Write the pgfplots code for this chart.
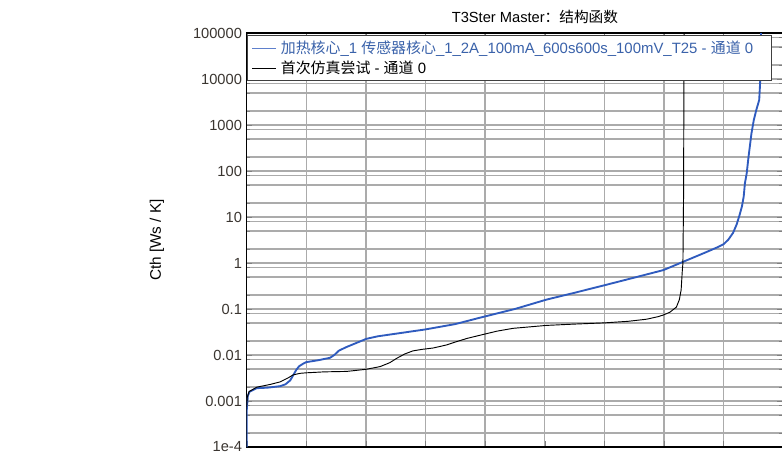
\documentclass[border=0pt]{standalone}
\usepackage{fontspec}
\setmainfont{Liberation Sans}
\newfontfamily\cjk{Noto Sans CJK SC}
\usepackage{pgfplots}
\pgfplotsset{compat=1.18}
\definecolor{cblue}{HTML}{2F5BBE}
\definecolor{ltblue}{HTML}{3A62AA}
\definecolor{legblue}{HTML}{5F80CC}
\definecolor{gridc}{HTML}{ABABAB}
\definecolor{tickc}{HTML}{3A3530}

\begin{document}
\begin{tikzpicture}
\useasboundingbox (-185pt,-7.5pt) rectangle (401.5pt,335.25pt);
\begin{axis}[
  at={(0,0)}, anchor=south west, scale only axis,
  width=402.3pt, height=310.5pt,
  xmin=0, xmax=9, ymode=log, ymin=1e-4, ymax=1e5,
  xtick={0,1,2,3,4,5,6,7,8,9}, xticklabels={},
  ytick={1e-4,1e-3,0.01,0.1,1,10,100,1000,10000,100000},
  yticklabels={1e-4,0.001,0.01,0.1,1,10,100,1000,10000,100000},
  minor ytick={2e-4,5e-4,8e-4,0.002,0.005,0.008,0.02,0.05,0.08,0.2,0.5,0.8,2,5,8,20,50,80,200,500,800,2000,5000,8000,20000,50000,80000},
  grid=both,
  major grid style={draw=gridc, line width=1.1pt},
  minor grid style={draw=gridc, line width=1.1pt},
  axis line style={black, line width=0.9pt},
  yticklabel style={font=\fontsize{11}{13}\selectfont, text=tickc},
  /pgf/number format/assume math mode=true,
  legend cell align=left,
  legend image code/.code={\draw[#1, line width=0.9pt] (0pt,0pt) -- (18pt,0pt);},
  legend style={at={(axis description cs:0.001,0.995)}, anchor=north west,
    draw=black!75, fill=white, line width=0.7pt,
    font=\fontsize{11.2}{13}\selectfont, inner xsep=3pt, inner ysep=2pt,
    nodes={inner xsep=3pt}},
]
\addplot[cblue, line width=1.4pt, forget plot] coordinates {
(0,1e-4) (0,6e-4) (0.02,0.0013) (0.05,0.0016) (0.17,0.0019) (0.35,0.00195)
(0.56,0.0021) (0.65,0.0023) (0.73,0.0028) (0.78,0.0036) (0.83,0.0047)
(0.88,0.0057) (0.95,0.0065) (1.0,0.0070) (1.2,0.0077) (1.4,0.0087)
(1.47,0.0100) (1.55,0.0125) (1.68,0.0150) (1.85,0.0185) (2.01,0.0225)
(2.2,0.0255) (2.5,0.029) (3.0,0.036) (3.5,0.047) (3.92,0.065) (4.5,0.10)
(5.03,0.16) (5.5,0.225) (6.01,0.33) (6.5,0.48) (6.99,0.70) (7.33,1.07)
(7.7,1.7) (7.9,2.2) (8.0,2.55) (8.08,3.2) (8.16,4.5) (8.22,6.8) (8.27,11) (8.31,17) (8.34,28)
(8.36,54) (8.39,89) (8.42,200) (8.47,660) (8.51,1300) (8.55,2100)
(8.60,3500) (8.62,11000) (8.63,100000)
};
\addlegendimage{legblue}
\addlegendentry[text=ltblue]{\makebox[362pt][l]{{\cjk 加热核心}\_1 {\cjk 传感器核心}\_1\_2A\_100mA\_600s600s\_100mV\_T25 - {\cjk 通道} 0}}
\addplot[black, line width=0.7pt] coordinates {
(0,7.5e-4) (0.01,0.0012) (0.04,0.0016) (0.17,0.002) (0.4,0.0023)
(0.56,0.0026) (0.7,0.0032) (0.78,0.0037) (0.9,0.0040) (1.0,0.0041)
(1.3,0.0043) (1.68,0.0044) (2.01,0.0049) (2.24,0.0056) (2.4,0.0068)
(2.52,0.0085) (2.65,0.0105) (2.79,0.0123) (2.95,0.0133) (3.13,0.0142)
(3.35,0.0165) (3.52,0.0195) (3.7,0.023) (3.92,0.027) (4.2,0.033)
(4.47,0.038) (5.03,0.044) (5.5,0.047) (6.01,0.050) (6.4,0.054)
(6.71,0.060) (6.9,0.068) (6.99,0.074) (7.1,0.085) (7.21,0.11)
(7.26,0.16) (7.29,0.26) (7.31,0.7) (7.32,1.0) (7.33,23) (7.34,100000)
};
\addlegendentry{{\cjk 首次仿真尝试} - {\cjk 通道} 0}
\end{axis}
\node[font=\fontsize{11}{13}\selectfont, text=black] at (216.2pt,322.5pt) {T3Ster Master{\cjk ：结构函数}};
\node[rotate=90, font=\fontsize{11.5}{13}\selectfont, text=black] at (-67.3pt,155.25pt) {Cth [Ws / K]};
\end{tikzpicture}
\end{document}
